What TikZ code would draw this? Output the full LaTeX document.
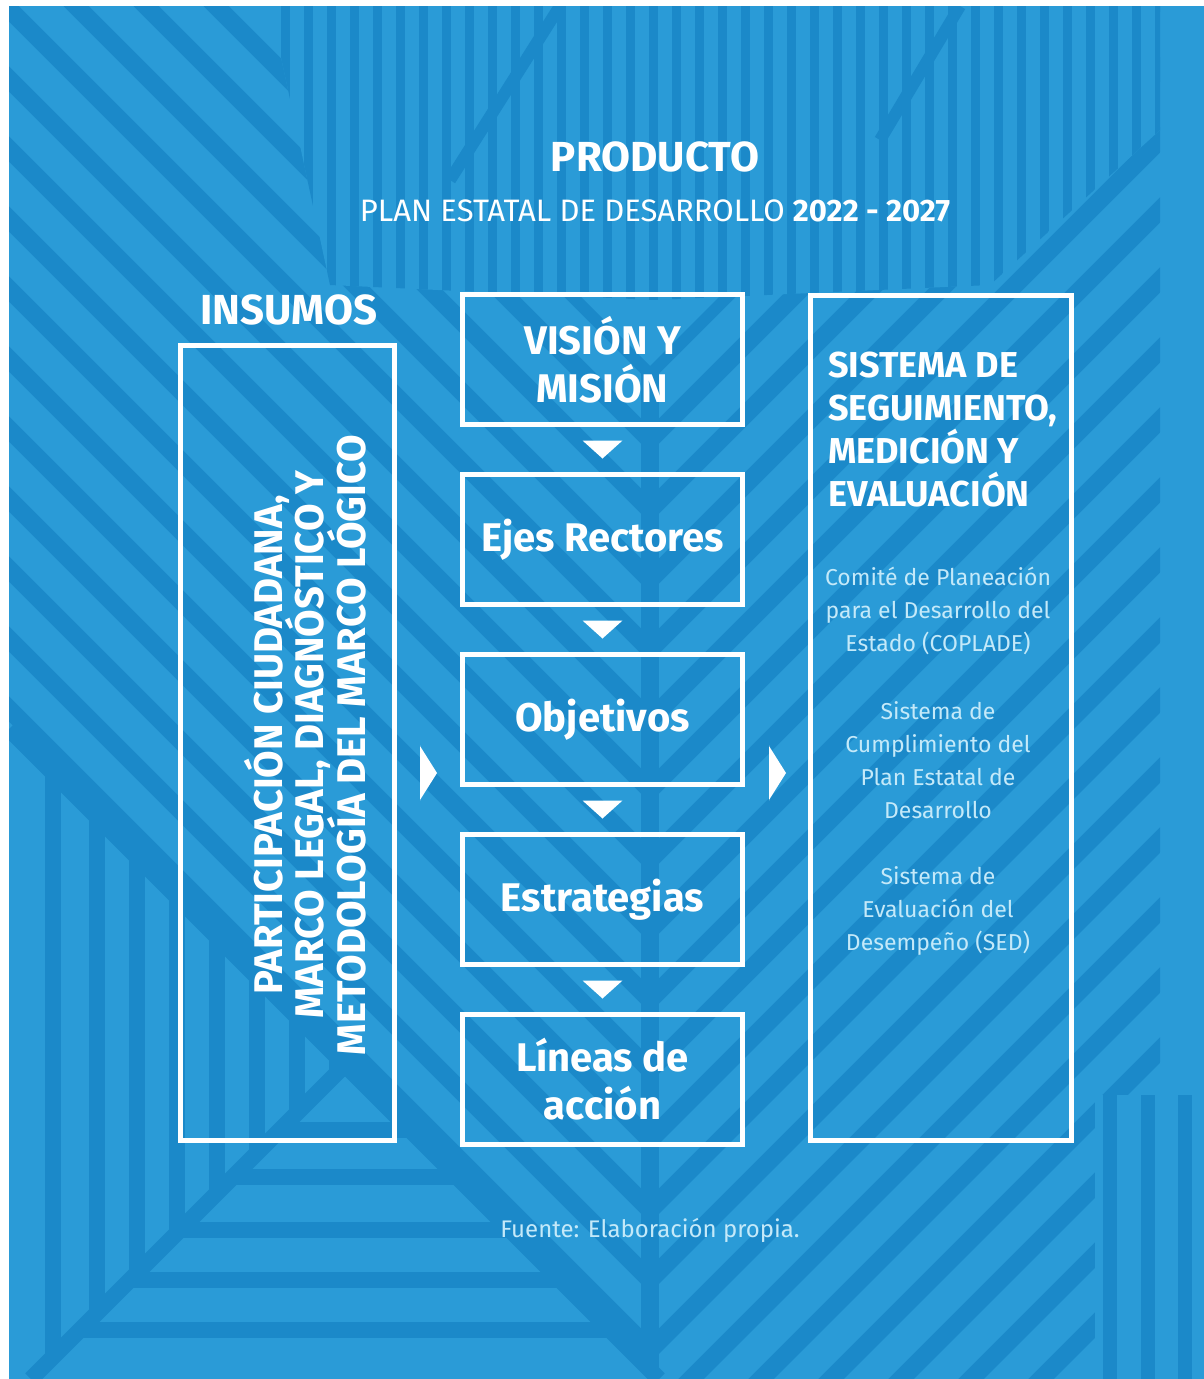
\documentclass[tikz,border=0pt]{standalone}
\usepackage{fontspec}
\setmainfont{Fira Sans}
\usetikzlibrary{calc,positioning}
\definecolor{bgblue}{RGB}{42,155,215}
\definecolor{stripe}{RGB}{27,137,201}
\definecolor{soft}{RGB}{196,233,249}
\tikzstyle{stripes} = [draw=stripe, line width=18pt]
\tikzstyle{block} = [draw=white, line width=5pt, rectangle, minimum width=280pt, minimum height=130pt, text=white, align=center, font=\bfseries\fontsize{40}{48}\selectfont]
\tikzstyle{frame} = [draw=white, line width=5pt, rectangle]
\tikzstyle{heading} = [text=white, inner sep=0pt, font=\bfseries\fontsize{36}{43}\selectfont]
\tikzstyle{small} = [text=soft, align=center, font=\fontsize{23}{33}\selectfont]

\begin{document}
\begin{tikzpicture}[x=1pt, y=-1pt, node distance=45pt]
    % background pattern
    \useasboundingbox (0,0) rectangle (1204,1379);
    \fill[white] (0,0) rectangle (1204,1379);
    \fill[bgblue] (9,6) rectangle (1204,1379);
    \begin{scope}
        \clip (9,6) rectangle (1204,1379);
        \begin{scope}
            \clip (9,6) -- (290,6) -- (650,366) -- (650,1379) -- (9,1379) -- cycle;
            \foreach \k in {-1400,-1330,...,700} \draw[stripes] (\k,0) -- ++(1450,1450);
        \end{scope}
        \begin{scope}
            \clip (650,366) -- (1010,6) -- (1160,6) -- (1160,1379) -- (650,1379) -- cycle;
            \foreach \k in {600,670,...,2700} \draw[stripes] (\k,0) -- ++(-1450,1450);
        \end{scope}
        % top band
        \begin{scope}
            \clip (270,6) -- (1160,6) -- (1160,130) -- (990,285) -- (655,300) -- (330,285) -- cycle;
            \fill[bgblue] (270,6) rectangle (1160,300);
            \foreach \x in {285,308,...,1160} \draw[stripes, line width=9pt] (\x,6) -- (\x,300);
            \draw[stripes, line width=12pt] (450,180) -- (560,6);
            \draw[stripes, line width=12pt] (880,140) -- (960,6);
        \end{scope}
        \draw[stripes] (650,366) -- (650,1379);
        % right edge
        \fill[bgblue] (1095,1095) rectangle (1204,1379);
        \foreach \x in {1110,1148,1185} \draw[stripes, line width=14pt] (\x,1095) -- (\x,1379);
        % bottom left corner
        \fill[bgblue] (9,729) -- (659,1379) -- (9,1379) -- cycle;
        \begin{scope}
            \clip (9,729) -- (345,1065) -- (31,1379) -- (9,1379) -- cycle;
            \foreach \x in {53,97,137,177,217,257,297,337} \draw[stripes, line width=16pt] (\x,700) -- (\x,1379);
        \end{scope}
        \begin{scope}
            \clip (345,1065) -- (659,1379) -- (31,1379) -- cycle;
            \foreach \y in {1130,1177,1230,1280,1330} \draw[stripes, line width=16pt] (9,\y) -- (700,\y);
        \end{scope}
        \draw[stripes, line width=16pt] (31,1379) -- (345,1065);
        \draw[stripes, line width=16pt] (9,729) -- (659,1379);
    \end{scope}

    % titles
    \node[heading, font=\bfseries\fontsize{42}{48}\selectfont] (producto) at (655,157) {PRODUCTO};
    \node[text=white, font=\fontsize{31}{36}\selectfont] (plan) at (655,211) {PLAN ESTATAL DE DESARROLLO \textbf{2022 - 2027}};
    \node[heading, font=\bfseries\fontsize{42}{48}\selectfont] (insumoslabel) at (289,310) {INSUMOS};

    % central flow
    \node[block] (vision) at (602.5,359.5) {VISIÓN Y\\MISIÓN};
    \node[block, below=of vision] (ejes) {Ejes Rectores};
    \node[block, below=of ejes] (objetivos) {Objetivos};
    \node[block, below=of objetivos] (estrategias) {Estrategias};
    \node[block, below=of estrategias] (lineas) {Líneas de\\acción};
    \foreach \a/\b in {vision/ejes, ejes/objetivos, objetivos/estrategias, estrategias/lineas}
        \fill[white] ($(\a.south)!.5!(\b.north)$) +(-20,-9) -- +(20,-9) -- +(0,9) -- cycle;

    % inputs
    \node[frame, minimum width=214pt, minimum height=795pt] (insumos) at (287.5,743) {};
    \node[text=white, rotate=90, align=center, font=\bfseries\fontsize{40}{38}\selectfont] (insumostext) at (305,745)
        {PARTICIPACIÓN CIUDADANA,\\[-5pt]MARCO LEGAL, DIAGNÓSTICO Y\\[-5pt]METODOLOGÍA DEL MARCO LÓGICO};

    % follow-up system
    \node[frame, minimum width=261pt, minimum height=845pt] (sistema) at (941,718) {};
    \node[heading, anchor=north west, align=left] (sistematext) at (828,352)
        {SISTEMA DE\\SEGUIMIENTO,\\MEDICIÓN Y\\EVALUACIÓN};
    \node[small] (coplade) at (938,611) {Comité de Planeación\\para el Desarrollo del\\Estado (COPLADE)};
    \node[small] (cumplimiento) at (938,760) {Sistema de\\Cumplimiento del\\Plan Estatal de\\Desarrollo};
    \node[small] (sed) at (938,911) {Sistema de\\Evaluación del\\Desempeño (SED)};

    % chevrons
    \coordinate (flowin) at (428,773);
    \coordinate (flowout) at (777,773);
    \foreach \c in {flowin, flowout}
        \fill[white] (\c) +(-8,-27) -- +(9,0) -- +(-8,27) .. controls +(0,10) and +(0,-10) .. +(-8,-27) -- cycle;

    \node[small, font=\fontsize{24}{28}\selectfont] (fuente) at (650,1230) {Fuente: Elaboración propia.};
\end{tikzpicture}
\end{document}
